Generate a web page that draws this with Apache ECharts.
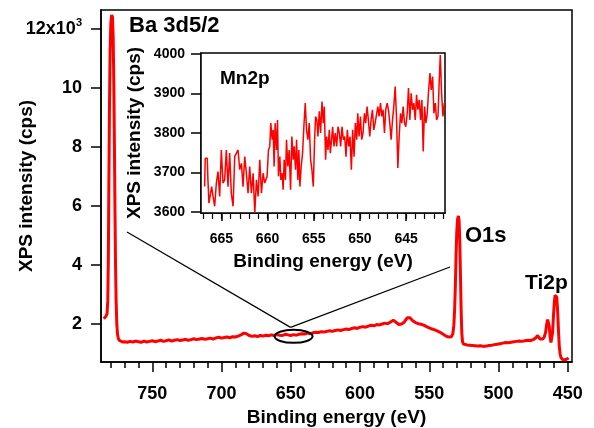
<!DOCTYPE html>
<html>
<head>
<meta charset="utf-8">
<script src="https://cdn.jsdelivr.net/npm/echarts@6/dist/echarts.min.js"></script>
<style>
html, body { margin: 0; padding: 0; background: #fff; }
#main { width: 594px; height: 428px; }
</style>
</head>
<body>
<div id="main"></div>
<script>
// survey spectrum, counts in 10^3 cps
var surveyEnergy = [785, 784.2, 783.4, 782.6, 782.1, 781.7, 781.3, 780.9, 780.4, 779.9, 779.3, 778.7, 778.2, 777.7, 777.3, 776.9, 776.5, 776.1, 775.6, 775.1, 774.5, 773.7, 772.7, 771.5,
	770, 768, 766, 764, 762, 760, 758, 756, 754, 752, 750, 748, 746, 744, 742, 740, 738, 736, 734, 732, 730, 728, 726, 724, 722, 720,
	718, 716, 714, 712, 710, 708, 706, 704, 702, 700, 698, 696, 694, 692, 690, 688, 686, 684, 682, 680, 678, 676, 674, 672, 670,
	668, 666, 664, 662, 660, 658, 656, 654, 652, 650, 648, 646, 644, 642, 640, 638, 636, 634, 632, 630, 628, 626, 624, 622, 620,
	618, 616, 614, 612, 610, 608, 606, 604, 602, 600, 598, 596, 594, 592, 590, 588, 586, 584, 582, 580, 578, 576, 574, 572, 570,
	568, 566, 565, 564, 562, 560, 558, 556, 554, 552, 550, 548, 546, 544, 542, 540, 538, 536,
	534, 533, 532.3, 531.7, 531.2, 530.7, 530.2, 529.6, 529, 528.5, 528, 527.5, 527, 526.5, 526, 525.3, 524.3,
	523, 521, 519, 517, 515, 513, 511, 509, 507, 505, 503, 501, 499, 497, 495, 493, 491, 489, 487, 485, 483, 481, 479, 477, 475,
	474, 473, 472, 471, 470, 469, 468, 467, 466, 465.3, 464.6, 464, 463.4, 462.8, 462.2, 461.6, 461, 460.4, 459.8, 459.2, 458.6, 458,
	457.4, 456.8, 456.2, 455.6, 455, 454, 453, 452, 451, 450, 449.5];
var surveyCounts = [2.17, 2.19, 2.25, 2.35, 2.8, 4.2, 6.8, 9.3, 11.3, 12.2, 12.48, 12.4, 11.7, 10.0, 8.0, 5.8, 4.0, 2.8, 2.0, 1.65, 1.5, 1.43, 1.4, 1.38,
	1.39, 1.37, 1.4, 1.38, 1.41, 1.39, 1.37, 1.41, 1.38, 1.40, 1.42, 1.39, 1.41, 1.44, 1.40, 1.42, 1.45, 1.41, 1.44, 1.46, 1.43, 1.45, 1.47, 1.44, 1.46, 1.49,
	1.46, 1.48, 1.5, 1.47, 1.49, 1.51, 1.48, 1.52, 1.54, 1.51, 1.53, 1.55, 1.52, 1.56, 1.55, 1.58, 1.62, 1.68, 1.66, 1.6, 1.57, 1.59, 1.56, 1.6, 1.58,
	1.61, 1.59, 1.62, 1.6, 1.63, 1.61, 1.6, 1.64, 1.62, 1.6, 1.63, 1.61, 1.64, 1.66, 1.65, 1.68, 1.66, 1.69, 1.71, 1.7, 1.73, 1.72, 1.74, 1.76, 1.74,
	1.77, 1.79, 1.77, 1.8, 1.82, 1.8, 1.84, 1.86, 1.84, 1.88, 1.9, 1.88, 1.92, 1.95, 1.93, 1.97, 1.96, 1.99, 2.02, 2.0, 2.06, 2.12, 2.05, 1.97, 1.99,
	2.06, 2.2, 2.25, 2.2, 2.1, 2.04, 2.0, 1.98, 1.95, 1.9, 1.86, 1.82, 1.79, 1.75, 1.7, 1.64, 1.58, 1.55,
	1.56, 1.66, 1.95, 2.5, 3.3, 4.3, 5.1, 5.55, 5.66, 5.5, 4.8, 3.6, 2.4, 1.65, 1.38, 1.31, 1.29,
	1.28, 1.27, 1.26, 1.25, 1.24, 1.25, 1.23, 1.24, 1.26, 1.27, 1.29, 1.3, 1.32, 1.34, 1.36, 1.35, 1.37, 1.39, 1.4, 1.41, 1.4, 1.42, 1.44, 1.43, 1.46,
	1.47, 1.52, 1.6, 1.57, 1.48, 1.45, 1.48, 1.55, 1.72, 1.98, 2.14, 2.15, 1.9, 1.55, 1.36, 1.38, 1.7, 2.25, 2.7, 2.97, 3.03, 2.9,
	2.45, 1.8, 1.25, 0.98, 0.86, 0.79, 0.77, 0.77, 0.79, 0.82, 0.84];

// Mn2p region (inset), cps
var mnEnergy = [666.81, 666.74, 666.52, 666.45, 666.34, 666.19, 666.05, 665.90, 665.72, 665.54,
	665.36, 665.18, 665.00, 664.82, 664.64, 664.46, 664.28, 664.10, 663.92, 663.73,
	663.55, 663.37, 663.19, 663.01, 662.83, 662.65, 662.47, 662.29, 662.11, 661.93,
	661.75, 661.56, 661.38, 661.20, 661.02, 660.84, 660.66, 660.48, 660.30, 660.05,
	659.90, 659.76, 659.65, 659.50, 659.39, 659.29, 659.18, 659.03, 658.92, 658.82,
	658.67, 658.56, 658.42, 658.31, 658.20, 658.06, 657.95, 657.80, 657.66, 657.51,
	657.37, 657.22, 657.12, 656.97, 656.86, 656.72, 656.61, 656.50, 656.36, 656.21,
	656.07, 655.92, 655.78, 655.63, 655.49, 655.34, 655.20, 655.05, 654.91, 654.80,
	654.66, 654.55, 654.40, 654.26, 654.11, 653.97, 653.86, 653.72, 653.61, 653.46,
	653.32, 653.21, 653.07, 652.96, 652.81, 652.67, 652.52, 652.38, 652.23, 652.09,
	651.94, 651.80, 651.65, 651.51, 651.37, 651.22, 651.08, 650.93, 650.79, 650.64,
	650.50, 650.35, 650.24, 650.10, 649.95, 649.81, 649.67, 649.52, 649.38, 649.23,
	649.09, 648.94, 648.80, 648.65, 648.51, 648.36, 648.22, 648.07, 647.93, 647.78,
	647.64, 647.50, 647.35, 647.21, 647.06, 646.92, 646.77, 646.63, 646.48, 646.34,
	646.19, 646.05, 645.90, 645.76, 645.61, 645.47, 645.33, 645.18, 645.04, 644.89,
	644.75, 644.60, 644.46, 644.31, 644.17, 644.02, 643.88, 643.73, 643.59, 643.44,
	643.30, 643.16, 643.01, 642.87, 642.72, 642.58, 642.43, 642.29, 642.14, 642.00,
	641.85, 641.71, 641.56, 641.42, 641.31, 641.17, 641.02, 640.88];
var mnCounts = [3664, 3736, 3736, 3681, 3622, 3618, 3664, 3639, 3614, 3673,
	3702, 3639, 3757, 3673, 3681, 3757, 3664, 3749, 3647, 3614,
	3740, 3749, 3757, 3707, 3723, 3664, 3740, 3698, 3647, 3715,
	3647, 3698, 3597, 3681, 3639, 3732, 3647, 3698, 3673, 3690,
	3757, 3766, 3825, 3783, 3808, 3715, 3825, 3757, 3833, 3690,
	3740, 3681, 3698, 3656, 3732, 3681, 3783, 3715, 3757, 3656,
	3791, 3732, 3766, 3707, 3783, 3681, 3757, 3664, 3715, 3749,
	3816, 3876, 3808, 3783, 3825, 3732, 3707, 3664, 3783, 3842,
	3833, 3791, 3855, 3800, 3880, 3825, 3867, 3732, 3791, 3757,
	3808, 3749, 3783, 3816, 3766, 3800, 3766, 3816, 3800, 3766,
	3816, 3783, 3791, 3740, 3808, 3766, 3791, 3707, 3808, 3740,
	3825, 3783, 3850, 3791, 3842, 3783, 3800, 3850, 3825, 3867,
	3833, 3791, 3833, 3859, 3808, 3825, 3825, 3867, 3842, 3876,
	3842, 3859, 3800, 3859, 3876, 3859, 3825, 3783, 3833, 3867,
	3918, 3842, 3711, 3791, 3850, 3825, 3867, 3825, 3816, 3850,
	3914, 3833, 3901, 3859, 3876, 3833, 3897, 3859, 3884, 3833,
	3884, 3753, 3867, 3825, 3850, 3905, 3952, 3909, 3943, 3850,
	3876, 3833, 3842, 3935, 3998, 3901, 3842, 3876];

// tick labels
var surveyTicks = [750, 700, 650, 600, 550, 500, 450];
var surveyMinor = [450, 460, 470, 480, 490, 500, 510, 520, 530, 540, 550, 560, 570, 580, 590, 600, 610, 620,
	630, 640, 650, 660, 670, 680, 690, 700, 710, 720, 730, 740, 750, 760, 770, 780];
var countTicks = [2, 4, 6, 8, 10, 12];
var mnTicks = [665, 660, 655, 650, 645];
var mnMinor = [641, 642, 643, 644, 645, 646, 647, 648, 649, 650, 651, 652, 653, 654, 655, 656, 657, 658, 659, 660,
	661, 662, 663, 664, 665, 666, 667];
var mnCountTicks = [3600, 3700, 3800, 3900, 4000];

var FONT = '"Liberation Sans", Arial, sans-serif';
var black = '#000';

function pairs(xs, ys) {
	return xs.map(function(x, i) { return [x, ys[i]]; });
}

var boldText = function(size) {
	return { color: black, fontSize: size, fontWeight: 'bold', fontFamily: FONT };
};
var plain = function(v) { return String(v); };

var myChart = echarts.init(document.getElementById('main'), null, { renderer: 'canvas' });

option = {
	animation: false,
	backgroundColor: '#fff',
	grid: [
		{ left: 101, top: 10, width: 471, height: 352, outerBoundsMode: 'none', containLabel: false, show: true, borderColor: black, borderWidth: 1.5, backgroundColor: 'transparent' },
		{ left: 201, top: 53, width: 244, height: 160, outerBoundsMode: 'none', containLabel: false, show: true, borderColor: black, borderWidth: 1.5, backgroundColor: '#fff', z: 5 }
	],
	xAxis: [{
		type: 'value', gridIndex: 0, min: 447, max: 787, inverse: true, position: 'bottom',
		axisLine: { lineStyle: { color: black, width: 1.5 } },
		axisTick: { customValues: surveyTicks, length: 10, lineStyle: { color: black, width: 1.5 } },
		axisLabel: Object.assign({ customValues: surveyTicks, margin: 23, formatter: plain }, boldText(18)),
		splitLine: { show: false },
		name: 'Binding energy (eV)', nameLocation: 'middle', nameGap: 46, nameMoveOverlap: false,
		nameTextStyle: boldText(19)
	}, {
		type: 'value', gridIndex: 0, min: 447, max: 787, inverse: true, position: 'bottom',
		axisLine: { show: false },
		axisTick: { customValues: surveyMinor, length: 6, lineStyle: { color: black, width: 1.5 } },
		axisLabel: { show: false },
		splitLine: { show: false }
	}, {
		type: 'value', gridIndex: 1, min: 640.8, max: 667.2, inverse: true, position: 'bottom',
		axisLine: { lineStyle: { color: black, width: 1.5 } },
		axisTick: { customValues: mnTicks, length: 8, lineStyle: { color: black, width: 1.5 } },
		axisLabel: Object.assign({ customValues: mnTicks, margin: 19, formatter: plain }, boldText(14)),
		splitLine: { show: false },
		name: 'Binding energy (eV)', nameLocation: 'middle', nameGap: 39, nameMoveOverlap: false,
		nameTextStyle: boldText(19)
	}, {
		type: 'value', gridIndex: 1, min: 640.8, max: 667.2, inverse: true, position: 'bottom',
		axisLine: { show: false },
		axisTick: { customValues: mnMinor, length: 6, lineStyle: { color: black, width: 1.2 } },
		axisLabel: { show: false },
		splitLine: { show: false }
	}],
	yAxis: [{
		type: 'value', gridIndex: 0, min: 0.7, max: 12.65,
		axisLine: { show: true, lineStyle: { color: black, width: 1.5 } },
		axisTick: { show: true, customValues: countTicks, length: 10, lineStyle: { color: black, width: 1.5 } },
		axisLabel: {
			customValues: countTicks, margin: 19,
			formatter: function(v) { return v === 12 ? '{a|12x10}{s|3}' : '{a|' + v + '}'; },
			rich: {
				a: boldText(18),
				s: Object.assign({ padding: [0, 0, 12, 0] }, boldText(11))
			}
		},
		splitLine: { show: false },
		name: 'XPS intensity (cps)', nameLocation: 'middle', nameGap: 65, nameMoveOverlap: false,
		nameTextStyle: boldText(19)
	}, {
		type: 'value', gridIndex: 1, min: 3597, max: 4003,
		axisLine: { show: true, lineStyle: { color: black, width: 1.5 } },
		axisTick: { show: true, customValues: mnCountTicks, length: 10, lineStyle: { color: black, width: 1.5 } },
		axisLabel: Object.assign({ customValues: mnCountTicks, margin: 16, formatter: plain }, boldText(14)),
		splitLine: { show: false },
		name: 'XPS intensity (cps)', nameLocation: 'middle', nameGap: 57, nameMoveOverlap: false,
		nameTextStyle: boldText(19)
	}],
	series: [{
		name: 'survey', type: 'line', xAxisIndex: 0, yAxisIndex: 0,
		data: pairs(surveyEnergy, surveyCounts),
		showSymbol: false, smooth: false,
		lineStyle: { color: '#ff0000', width: 3 }
	}, {
		name: 'Mn2p', type: 'line', xAxisIndex: 2, yAxisIndex: 1,
		data: pairs(mnEnergy, mnCounts),
		showSymbol: false, z: 6,
		lineStyle: { color: '#ff0000', width: 1.5 }
	}]
};
myChart.setOption(option);

// zoom ellipse round 648 eV plus its connector lines and peak labels
var c = myChart.convertToPixel({ xAxisIndex: 0, yAxisIndex: 0 }, [648, 1.57]);
var txt = function(s, x, y, size) {
	return { type: 'text', z: 20, style: { text: s, x: x, y: y, fill: black, font: 'bold ' + size + 'px ' + FONT, verticalAlign: 'middle' } };
};
myChart.setOption({
	graphic: [
		{ type: 'ellipse', z: 20, shape: { cx: c[0], cy: c[1], rx: 19, ry: 6.5 }, style: { fill: 'none', stroke: black, lineWidth: 2 } },
		{ type: 'line', z: 20, shape: { x1: 127, y1: 232, x2: c[0] - 3, y2: c[1] - 9 }, style: { stroke: black, lineWidth: 1.2 } },
		{ type: 'line', z: 20, shape: { x1: c[0] - 3, y1: c[1] - 9, x2: 450, y2: 267 }, style: { stroke: black, lineWidth: 1.2 } },
		txt('Ba 3d5/2', 129, 26, 22),
		txt('O1s', 465, 236, 22),
		txt('Ti2p', 525, 283, 21),
		txt('Mn2p', 220, 79, 19)
	]
});
</script>
</body>
</html>
